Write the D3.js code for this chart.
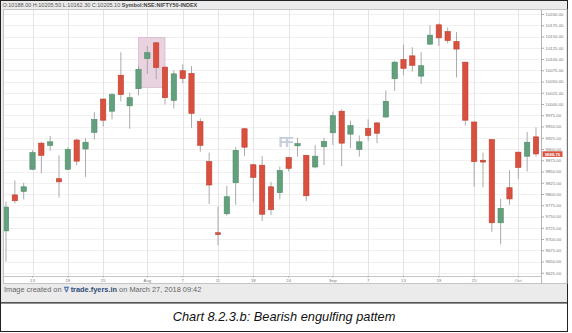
<!DOCTYPE html>
<html>
<head>
<meta charset="utf-8">
<script src="https://cdn.jsdelivr.net/npm/d3@7/dist/d3.min.js"></script>
<style>
  body { margin: 0; background: #fff; }
  svg text { font-family: "Liberation Sans", Arial, sans-serif; }
</style>
</head>
<body>
<div id="chart"></div>
<script>
// NIFTY 50 daily candles, Jul 10 - Oct 5 2017
let dates = ["2017-07-10","2017-07-11","2017-07-12","2017-07-13","2017-07-14","2017-07-17","2017-07-18","2017-07-19","2017-07-20","2017-07-21",
  "2017-07-24","2017-07-25","2017-07-26","2017-07-27","2017-07-28","2017-07-31","2017-08-01","2017-08-02","2017-08-03","2017-08-04",
  "2017-08-07","2017-08-08","2017-08-09","2017-08-10","2017-08-11","2017-08-14","2017-08-16","2017-08-17","2017-08-18","2017-08-21",
  "2017-08-22","2017-08-23","2017-08-24","2017-08-28","2017-08-29","2017-08-30","2017-08-31","2017-09-01","2017-09-04","2017-09-05",
  "2017-09-06","2017-09-07","2017-09-08","2017-09-11","2017-09-12","2017-09-13","2017-09-14","2017-09-15","2017-09-18","2017-09-19",
  "2017-09-20","2017-09-21","2017-09-22","2017-09-25","2017-09-26","2017-09-27","2017-09-28","2017-09-29","2017-10-03","2017-10-04",
  "2017-10-05"];
let opens  = [9718, 9798, 9806, 9855, 9913, 9908, 9834, 9855, 9920, 9900,
  9937, 10011, 9984, 10064, 9996, 10034, 10101, 10136, 10082, 10008,
  10074, 10068, 9961, 9872, 9714, 9756, 9825, 9945, 9865, 9864,
  9816, 9803, 9881, 9907, 9886, 9860, 9905, 9936, 9984, 9933,
  9899, 9946, 9958, 9971, 10056, 10099, 10107, 10062, 10133, 10176,
  10161, 10139, 10093, 9960, 9875, 9921, 9736, 9814, 9893, 9884,
  9927];
let highs  = [9783, 9830, 9825, 9897, 9916, 9929, 9886, 9904, 9923, 9924,
  9982, 10012, 10025, 10115, 10025, 10085, 10129, 10137, 10083, 10075,
  10088, 10084, 9968, 9892, 9772, 9818, 9904, 9947, 9867, 9884,
  9827, 9861, 9883, 9925, 9887, 9909, 9925, 9983, 9988, 9963,
  9930, 9966, 9960, 10030, 10096, 10132, 10126, 10115, 10175, 10179,
  10170, 10160, 10094, 9961, 9892, 9922, 9789, 9853, 9894, 9938,
  9948];
let lows   = [9650, 9779, 9788, 9853, 9846, 9896, 9792, 9853, 9864, 9838,
  9921, 9950, 9966, 10006, 9945, 10019, 10067, 10055, 9999, 9990,
  10046, 9947, 9894, 9778, 9686, 9752, 9776, 9884, 9783, 9740,
  9753, 9788, 9850, 9883, 9784, 9857, 9864, 9909, 9862, 9902,
  9883, 9918, 9913, 9970, 10029, 10064, 10072, 10044, 10132, 10129,
  10135, 10059, 9952, 9816, 9815, 9716, 9688, 9776, 9833, 9850,
  9883];
let closes = [9771, 9785, 9816, 9892, 9886, 9916, 9827, 9899, 9873, 9915,
  9966, 9964, 10021, 10021, 10014, 10077, 10114, 10081, 10014, 10067,
  10057, 9979, 9908, 9820, 9710, 9794, 9897, 9904, 9837, 9755,
  9765, 9852, 9857, 9912, 9796, 9884, 9917, 9974, 9913, 9952,
  9916, 9930, 9935, 10006, 10093, 10079, 10086, 10085, 10153, 10147,
  10141, 10122, 9964, 9872, 9871, 9736, 9768, 9789, 9859, 9915,
  9889];

let tickDates  = ["2017-07-13","2017-07-19","2017-07-25","2017-08-01","2017-08-07","2017-08-11","2017-08-18",
  "2017-08-24","2017-09-01","2017-09-07","2017-09-13","2017-09-19","2017-09-25","2017-10-03"];
let tickLabels = ["13","19","25","Aug","7","11","18","24","Sep","7","13","19","25","Oct"];
let priceTicks = d3.range(9625, 10201, 25);

let lastPrice = 9888.70;
let headerValues = "O:10188.00 H:10205.50 L:10162.30 C:10205.10 ";
let headerSymbol = "Symbol:NSE:NIFTY50-INDEX";

// the engulfing pair that is boxed in the picture
let boxFrom = "2017-07-31", boxTo = "2017-08-03", boxTop = 10148, boxBottom = 10037;

let candles = dates.map((d, i) => ({date: d, open: opens[i], high: highs[i], low: lows[i], close: closes[i]}));

let svgWidth = 572, svgHeight = 333;
let plot = {left: 4, top: 10, right: 541.5, bottom: 276};

let svg = d3.select("#chart").append("svg")
  .attr("width", svgWidth)
  .attr("height", svgHeight);

// outer frame: grey card, white caption strip
svg.append("rect").attr("x", 0.5).attr("y", 0.5).attr("width", 567).attr("height", 302.5)
  .attr("fill", "#ebebeb").attr("stroke", "#222");
svg.append("rect").attr("x", 0.5).attr("y", 303).attr("width", 567).attr("height", 28.5)
  .attr("fill", "#fff").attr("stroke", "#222");

// white chart widget
svg.append("rect").attr("x", 3.5).attr("y", 9.5).attr("width", 563.5).attr("height", 274)
  .attr("fill", "#fff").attr("stroke", "#c4c4c4");

let x = d3.scaleBand()
  .domain(dates)
  .range([1.6, 540.4])
  .paddingInner(0.4)
  .paddingOuter(0.2);
let xc = d => x(d) + x.bandwidth() / 2;

let y = d3.scaleLinear()
  .domain([9625, 10200])
  .range([272.75, 14]);

svg.append("clipPath").attr("id", "plotClip")
  .append("rect")
  .attr("x", plot.left).attr("y", plot.top)
  .attr("width", plot.right - plot.left).attr("height", plot.bottom - plot.top);

let chartGroup = svg.append("g").attr("clip-path", "url(#plotClip)");

// grid
chartGroup.selectAll(".hgrid").data(priceTicks).enter().append("line")
  .attr("x1", plot.left).attr("x2", plot.right)
  .attr("y1", d => Math.round(y(d)) + 0.5).attr("y2", d => Math.round(y(d)) + 0.5)
  .attr("stroke", "#f0f0f0");
chartGroup.selectAll(".vgrid").data(tickDates).enter().append("line")
  .attr("x1", d => Math.round(xc(d)) + 0.5).attr("x2", d => Math.round(xc(d)) + 0.5)
  .attr("y1", plot.top).attr("y2", plot.bottom)
  .attr("stroke", "#e4e4e4");

// watermark
svg.append("text")
  .attr("x", 285).attr("y", 146.5)
  .attr("text-anchor", "middle")
  .attr("font-size", 14).attr("font-weight", "bold")
  .attr("letter-spacing", -2)
  .attr("fill", "#c3cddc")
  .text("FF");

// highlight box
chartGroup.append("rect")
  .attr("x", xc(boxFrom))
  .attr("y", y(boxTop))
  .attr("width", xc(boxTo) - xc(boxFrom))
  .attr("height", y(boxBottom) - y(boxTop))
  .attr("fill", "#e9d3e1")
  .attr("stroke", "#d9b7cd")
  .attr("stroke-width", 0.8);

// wicks
chartGroup.selectAll(".wick").data(candles).enter().append("line")
  .attr("x1", d => xc(d.date)).attr("x2", d => xc(d.date))
  .attr("y1", d => y(d.high)).attr("y2", d => y(d.low))
  .attr("stroke", "#a2a2a2").attr("stroke-width", 0.9);

// bodies
chartGroup.selectAll(".body").data(candles).enter().append("rect")
  .attr("x", d => x(d.date))
  .attr("width", x.bandwidth())
  .attr("y", d => y(Math.max(d.open, d.close)))
  .attr("height", d => Math.max(1.2, Math.abs(y(d.open) - y(d.close))))
  .attr("fill", d => d.close >= d.open ? "#62a07e" : "#d9503f")
  .attr("stroke", d => d.close >= d.open ? "#4f8a69" : "#bf3f30")
  .attr("stroke-width", 0.6);

// axes
svg.append("line")
  .attr("x1", plot.right).attr("x2", plot.right).attr("y1", plot.top).attr("y2", 283.5)
  .attr("stroke", "#b5b5b5");
svg.append("line")
  .attr("x1", plot.left).attr("x2", plot.right).attr("y1", plot.bottom + 0.5).attr("y2", plot.bottom + 0.5)
  .attr("stroke", "#c8c8c8");

let rightAxis = d3.axisRight(y)
  .tickValues(priceTicks)
  .tickFormat(d3.format(".2f"))
  .tickSize(2.5)
  .tickPadding(1.5);
let yAxisG = svg.append("g")
  .attr("transform", `translate(${plot.right}, 0)`)
  .call(rightAxis);
yAxisG.select(".domain").remove();
yAxisG.selectAll("line").attr("stroke", "#aaa");
yAxisG.selectAll("text").attr("font-size", 4.3).attr("fill", "#777");

let bottomAxis = d3.axisBottom(x)
  .tickValues(tickDates)
  .tickFormat((d, i) => tickLabels[i])
  .tickSize(1.5)
  .tickPadding(1);
let xAxisG = svg.append("g")
  .attr("transform", `translate(0, ${plot.bottom})`)
  .call(bottomAxis);
xAxisG.select(".domain").remove();
xAxisG.selectAll("line").attr("stroke", "#aaa");
xAxisG.selectAll("text").attr("font-size", 4.3).attr("fill", "#777");

// last price tag
svg.append("rect")
  .attr("x", plot.right + 1).attr("y", y(lastPrice) - 2.8)
  .attr("width", 20).attr("height", 5.6)
  .attr("fill", "#d9503f");
svg.append("text")
  .attr("x", plot.right + 11).attr("y", y(lastPrice) + 1.5)
  .attr("text-anchor", "middle")
  .attr("font-size", 4.3).attr("font-weight", "bold").attr("fill", "#fff")
  .text(d3.format(".2f")(lastPrice));

// header line
let header = svg.append("text").attr("x", 2.5).attr("y", 7).attr("font-size", 5.5).attr("fill", "#555");
header.append("tspan").text(headerValues);
header.append("tspan").attr("font-weight", "bold").attr("fill", "#444").text(headerSymbol);

// footer line
let footer = svg.append("text").attr("x", 4).attr("y", 292).attr("font-size", 7.4).attr("fill", "#666");
footer.append("tspan").text("Image created on ");
footer.append("tspan").attr("font-weight", "bold").attr("fill", "#3a6ab0").text("\u2207 ");
footer.append("tspan").attr("font-weight", "bold").attr("fill", "#2f4d78").text("trade.fyers.in");
footer.append("tspan").text(" on March 27, 2018 09:42");

// caption
svg.append("text")
  .attr("x", 284).attr("y", 321)
  .attr("text-anchor", "middle")
  .attr("font-family", "DejaVu Sans")
  .attr("font-style", "italic")
  .attr("font-size", 12.8)
  .attr("fill", "#111")
  .text("Chart 8.2.3.b: Bearish engulfing pattem");
</script>
</body>
</html>
